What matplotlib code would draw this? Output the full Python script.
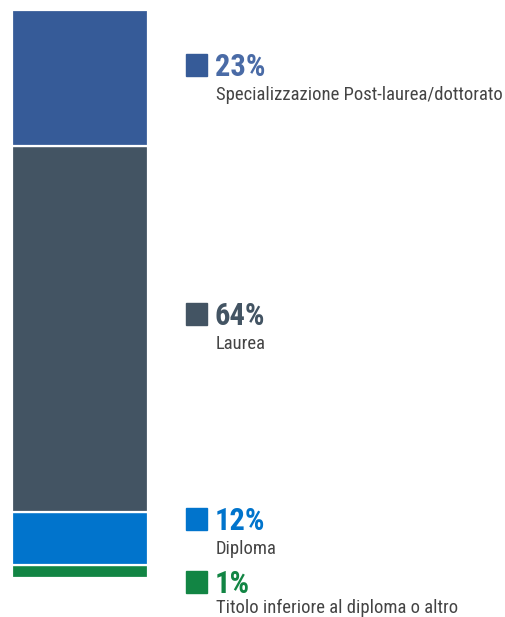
import matplotlib
matplotlib.use("Agg")
import matplotlib.pyplot as plt
from matplotlib.patches import Rectangle

# Data (bottom to top)
categories = ["Titolo inferiore al diploma o altro", "Diploma", "Laurea",
              "Specializzazione Post-laurea/dottorato"]
pct_labels = ["1%", "12%", "64%", "23%"]
# segment heights as drawn in the picture (share of bar)
segment_sizes = [2.3, 9.3, 63.7, 23.8]
colors = ["#128544", "#0174CC", "#435463", "#365B98"]
text_colors = ["#128544", "#0174CC", "#435463", "#4A6BA6"]
# vertical centre of each legend square, pixels from top
label_y_px = [582, 519, 314, 65]
# gap from square centre to subtitle baseline, pixels
sub_gap_px = [31, 35, 35, 35]

W, H = 506, 617
fig = plt.figure(figsize=(W / 100, H / 100), dpi=100)
fig.patch.set_facecolor("white")

ax = fig.add_axes([12 / W, (H - 578) / H, 136 / W, 568 / H])
bottom = 0
for size, c in zip(segment_sizes, colors):
    ax.bar(0, size, bottom=bottom, width=1.0, color=c, edgecolor="white", linewidth=1.6)
    bottom += size
ax.set_xlim(-0.5, 0.5)
ax.set_ylim(0, bottom)
ax.axis("off")

fam = ["Roboto Condensed", "Liberation Sans Narrow", "Roboto", "DejaVu Sans"]
renderer = fig.canvas.get_renderer()

def fit_size(txt, target_px, base, weight="normal"):
    t = fig.text(0, 0, txt, fontsize=base, family=fam, fontweight=weight)
    w = t.get_window_extent(renderer).width
    t.remove()
    return base * target_px / w

sub_size = fit_size("Specializzazione Post-laurea/dottorato", 285, 13)
pct_size = min(fit_size("23%", 52, 22, "bold"), 22)

for cat, lab, col, tcol, ypx, gap in zip(categories, pct_labels, colors, text_colors,
                                         label_y_px, sub_gap_px):
    sq = Rectangle((186 / W, (H - ypx - 11) / H), 21 / W, 22 / H,
                   transform=fig.transFigure, color=col)
    fig.patches.append(sq)
    fig.text(215 / W, (H - ypx - 11) / H, lab, fontsize=pct_size, fontweight="bold",
             color=tcol, family=fam, va="baseline", ha="left")
    fig.text(216 / W, (H - ypx - gap) / H, cat, fontsize=sub_size, color="#444444",
             family=fam, va="baseline", ha="left")

fig.savefig("out.png", dpi=100, facecolor="white")
